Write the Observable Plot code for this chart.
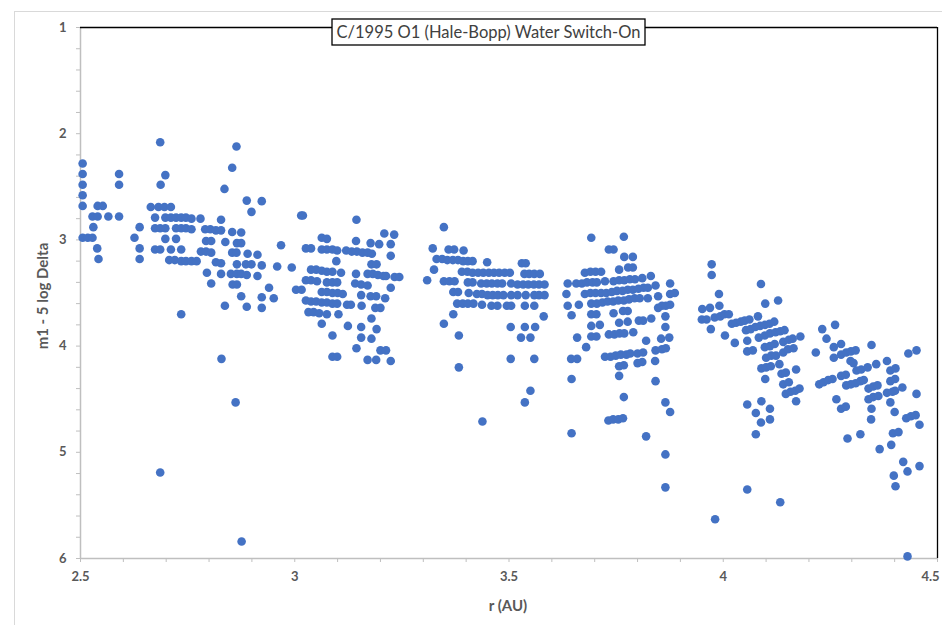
<!DOCTYPE html>
<html><head><meta charset="utf-8">
<script src="https://cdn.jsdelivr.net/npm/d3@7"></script>
<script src="https://cdn.jsdelivr.net/npm/@observablehq/plot@0.6"></script>
<style>
body{margin:0;background:#fff;}
#wrap{position:relative;width:942px;height:625px;overflow:hidden;background:#fff;}
#outer{position:absolute;left:14px;top:11px;width:960px;height:660px;border:1px solid #d9d9d9;}
#wrap svg{position:absolute;left:0;top:0;}
</style></head><body><div id="wrap"><div id="outer"></div></div>
<script>
// r (AU), m1 - 5 log Delta, grouped by observing window
const clusterA = [
[2.505,2.28],[2.505,2.38],[2.505,2.48],[2.505,2.58],[2.505,2.68],[2.505,2.98],
[2.517,2.98],[2.528,2.98],[2.528,2.78],[2.540,2.78],[2.540,2.68],[2.552,2.68],
[2.530,2.88],[2.539,3.08],[2.542,3.18],[2.565,2.78],
[2.590,2.38],[2.590,2.48],[2.590,2.78],
[2.626,2.98],[2.638,2.88],[2.638,3.08],[2.638,3.18],
[2.664,2.69],[2.674,2.79],[2.674,2.89],[2.686,2.89],[2.698,2.89],
[2.674,3.09],[2.686,3.09],[2.686,2.08],[2.687,2.48],[2.698,2.39],
[2.682,2.69],[2.696,2.69],[2.711,2.69],
[2.698,2.79],[2.711,2.79],[2.723,2.79],[2.735,2.79],[2.746,2.79],[2.759,2.80],
[2.723,2.89],[2.735,2.89],[2.746,2.89],[2.759,2.90],
[2.698,2.99],[2.723,2.99],[2.711,3.09],[2.735,3.09],
[2.707,3.19],[2.720,3.19],[2.735,3.20],[2.746,3.20],[2.759,3.20],[2.771,3.20],
[2.780,2.80],[2.791,2.90],[2.803,2.90],[2.816,2.91],[2.828,2.91],
[2.793,3.01],[2.805,3.01],[2.781,3.11],[2.793,3.11],[2.805,3.12],
[2.816,3.21],[2.828,3.22],[2.795,3.31],[2.805,3.41],[2.828,3.32],
[2.828,2.81],[2.836,2.52],[2.838,3.02],[2.837,3.62],
[2.735,3.70],[2.829,4.12],[2.686,5.19],
[2.864,2.12],[2.854,2.32],[2.888,2.63],[2.923,2.635],[2.899,2.736],
[2.854,2.925],[2.875,2.93],[2.865,3.03],[2.875,3.03],
[2.854,3.12],[2.864,3.12],[2.890,3.13],[2.913,3.14],
[2.865,3.23],[2.886,3.23],[2.899,3.23],[2.923,3.24],
[2.851,3.32],[2.865,3.32],[2.875,3.32],[2.888,3.33],[2.913,3.34],
[2.855,3.42],[2.865,3.42],[2.940,3.45],[2.875,3.53],[2.923,3.54],[2.951,3.55],
[2.888,3.63],[2.923,3.64],[2.968,3.05],[2.959,3.25],[2.993,3.26],
[3.015,2.77],[3.019,2.77],[3.003,3.47],[3.016,3.47],
[2.862,4.53],[2.876,5.84]
];
const clusterB = [
[3.026,3.08],[3.038,3.08],[3.063,2.98],[3.075,2.99],
[3.063,3.09],[3.075,3.09],[3.088,3.09],[3.099,3.10],
[3.144,2.81],[3.143,3.01],
[3.120,3.10],[3.133,3.11],[3.145,3.11],[3.158,3.12],[3.097,3.20],
[3.038,3.28],[3.050,3.28],[3.063,3.29],[3.075,3.30],[3.088,3.30],[3.108,3.31],[3.143,3.32],
[3.026,3.38],[3.038,3.38],[3.052,3.39],[3.075,3.40],[3.088,3.40],[3.099,3.40],
[3.141,3.41],[3.155,3.42],
[3.063,3.49],[3.075,3.49],[3.088,3.50],[3.100,3.50],[3.112,3.51],[3.155,3.52],
[3.026,3.57],[3.038,3.58],[3.050,3.58],[3.063,3.59],[3.075,3.59],[3.088,3.60],[3.099,3.60],
[3.122,3.61],[3.131,3.61],[3.156,3.62],
[3.032,3.68],[3.044,3.68],[3.057,3.69],[3.075,3.70],[3.102,3.70],
[3.063,3.79],[3.124,3.81],[3.155,3.82],[3.155,3.92],[3.088,3.90],[3.144,4.02],
[3.088,4.10],[3.099,4.10],
[3.209,2.94],[3.232,2.95],[3.177,3.03],[3.197,3.04],[3.224,3.04],
[3.170,3.12],[3.180,3.13],[3.224,3.15],[3.179,3.23],[3.191,3.23],
[3.170,3.32],[3.182,3.32],[3.194,3.33],[3.207,3.34],[3.213,3.34],[3.233,3.35],[3.244,3.35],
[3.170,3.43],[3.224,3.45],[3.177,3.53],[3.190,3.53],[3.211,3.55],
[3.188,3.64],[3.200,3.64],[3.179,3.74],[3.191,3.84],[3.179,3.93],
[3.200,4.04],[3.213,4.04],[3.170,4.13],[3.190,4.13],[3.224,4.14]
];
const clusterC = [
[3.348,2.88],[3.322,3.08],[3.359,3.09],[3.372,3.09],[3.394,3.10],
[3.325,3.28],[3.309,3.38],
[3.331,3.18],[3.344,3.18],[3.356,3.19],[3.369,3.19],[3.381,3.19],[3.393,3.20],[3.404,3.20],[3.415,3.20],
[3.449,3.21],[3.348,3.39],[3.361,3.39],[3.373,3.39],
[3.390,3.30],[3.403,3.30],[3.415,3.31],[3.428,3.31],[3.440,3.31],[3.453,3.31],[3.465,3.31],[3.477,3.31],[3.490,3.31],[3.502,3.31],
[3.370,3.49],[3.381,3.49],[3.406,3.50],[3.404,3.40],[3.415,3.40],
[3.435,3.41],[3.448,3.41],[3.460,3.41],[3.473,3.41],[3.484,3.41],[3.505,3.41],
[3.425,3.51],[3.437,3.51],[3.450,3.52],[3.462,3.52],[3.474,3.52],[3.487,3.52],[3.505,3.52],
[3.379,3.60],[3.392,3.60],[3.404,3.60],[3.417,3.60],[3.437,3.61],[3.459,3.62],[3.473,3.62],[3.495,3.62],[3.505,3.62],
[3.348,3.79],[3.370,3.70],[3.383,3.90],[3.383,4.20],[3.438,4.71],[3.504,3.82],[3.504,4.12],
[3.530,3.22],[3.539,3.22],
[3.536,3.32],[3.547,3.32],[3.559,3.32],[3.572,3.32],
[3.520,3.42],[3.533,3.42],[3.545,3.42],[3.558,3.42],[3.570,3.42],[3.583,3.42],
[3.520,3.52],[3.539,3.52],[3.559,3.52],[3.570,3.52],[3.583,3.52],
[3.537,3.62],[3.559,3.62],[3.581,3.72],[3.537,3.82],[3.561,3.82],
[3.528,3.92],[3.550,3.92],[3.559,4.12],[3.550,4.42],[3.537,4.53]
];
const clusterD = [
[3.692,2.98],[3.768,2.97],[3.733,3.09],[3.744,3.09],[3.769,3.16],[3.789,3.16],
[3.778,3.26],[3.789,3.26],[3.757,3.28],
[3.677,3.31],[3.690,3.30],[3.702,3.30],[3.715,3.30],[3.724,3.39],
[3.637,3.41],[3.657,3.41],[3.670,3.41],[3.682,3.40],[3.695,3.40],[3.705,3.40],
[3.744,3.39],[3.757,3.38],[3.769,3.38],[3.782,3.37],[3.794,3.37],[3.811,3.36],[3.831,3.34],[3.842,3.43],
[3.634,3.51],
[3.677,3.51],[3.690,3.50],[3.702,3.50],[3.715,3.50],[3.727,3.50],[3.740,3.49],[3.752,3.48],
[3.765,3.48],[3.777,3.47],[3.789,3.47],[3.802,3.46],[3.814,3.45],[3.824,3.45],
[3.692,3.60],[3.705,3.60],[3.718,3.59],[3.730,3.58],[3.743,3.58],[3.755,3.57],
[3.768,3.57],[3.780,3.56],[3.793,3.55],[3.805,3.55],[3.824,3.55],
[3.637,3.62],[3.663,3.61],[3.848,3.53],[3.848,3.64],[3.646,3.71],
[3.692,3.70],[3.704,3.70],[3.744,3.69],[3.766,3.67],[3.777,3.67],
[3.803,3.76],[3.813,3.76],[3.832,3.74],[3.692,3.81],[3.712,3.80],[3.757,3.78],[3.777,3.77],
[3.692,3.91],[3.704,3.91],[3.733,3.89],[3.746,3.89],[3.758,3.88],[3.769,3.88],[3.790,3.87],
[3.659,3.92],[3.680,4.01],[3.820,3.95],[3.645,4.12],[3.659,4.12],
[3.724,4.10],[3.737,4.10],[3.749,4.09],[3.761,4.08],[3.774,4.08],[3.783,4.07],
[3.800,4.07],[3.813,4.06],[3.842,4.04],[3.800,4.16],[3.811,4.15],[3.757,4.19],[3.768,4.18],
[3.841,4.14],[3.757,4.28],[3.646,4.31],[3.842,4.33],[3.768,4.48],
[3.732,4.70],[3.743,4.69],[3.755,4.69],[3.766,4.68],[3.646,4.82],[3.820,4.85],
[3.857,3.62],[3.866,3.62],[3.876,3.61],[3.876,3.41],[3.876,3.51],[3.887,3.50],
[3.865,3.72],[3.865,3.82],[3.855,3.93],[3.874,3.92],[3.857,4.03],[3.866,4.02],
[3.865,4.53],[3.876,4.62],[3.865,5.02],[3.865,5.33]
];
const clusterE = [
[3.973,3.23],[3.973,3.33],[3.990,3.51],[3.951,3.65],[3.969,3.64],[3.991,3.62],
[3.950,3.75],[3.961,3.75],[3.980,3.73],[3.993,3.72],[4.003,3.70],[4.013,3.70],
[3.971,3.84],[4.004,3.90],[4.027,3.97],
[4.020,3.79],[4.030,3.78],[4.041,3.77],[4.050,3.76],[4.061,3.75],
[4.053,3.85],[4.064,3.84],[4.075,3.82],[4.086,3.81],[4.097,3.80],[4.108,3.79],[4.119,3.77],
[4.081,3.72],[4.088,3.415],[4.098,3.60],[4.128,3.57],[4.056,3.95],[4.083,3.92],
[4.056,4.05],[4.069,4.04],[4.097,3.90],[4.109,3.88],[4.122,3.87],[4.133,3.86],[4.143,3.85],
[4.097,4.01],[4.109,4.00],[4.120,3.98],[4.140,3.96],[4.153,3.94],[4.162,3.93],[4.180,3.91],
[4.140,4.06],[4.151,4.03],[4.164,4.02],[4.100,4.11],[4.112,4.09],[4.123,4.09],[4.131,4.17],
[4.089,4.21],[4.100,4.20],[4.111,4.19],[4.136,4.26],[4.146,4.25],[4.170,4.22],[4.098,4.31],
[4.140,4.36],[4.153,4.34],[4.146,4.45],[4.157,4.43],[4.168,4.42],[4.178,4.40],[4.170,4.52],
[4.056,4.55],[4.089,4.52],[4.076,4.63],[4.109,4.59],[4.109,4.69],[4.088,4.72],[4.076,4.83],
[4.056,5.35],[4.133,5.47],[3.981,5.63]
];
const clusterF = [
[4.216,4.06],[4.231,3.84],[4.261,3.80],[4.241,3.93],[4.258,4.01],[4.275,3.98],[4.258,4.11],
[4.275,4.08],[4.287,4.06],[4.298,4.05],[4.309,4.04],[4.297,4.14],[4.304,4.16],[4.346,3.99],
[4.224,4.36],[4.234,4.34],[4.245,4.32],[4.255,4.31],[4.275,4.28],[4.286,4.27],
[4.287,4.37],[4.298,4.36],[4.309,4.35],[4.320,4.33],[4.328,4.32],
[4.311,4.23],[4.322,4.22],[4.337,4.20],[4.264,4.50],[4.275,4.59],[4.286,4.57],
[4.339,4.40],[4.350,4.38],[4.360,4.37],[4.339,4.50],[4.350,4.48],[4.362,4.47],
[4.357,4.17],[4.346,4.59],[4.345,4.69],[4.382,4.14],[4.390,4.23],[4.402,4.21],
[4.390,4.33],[4.401,4.31],[4.382,4.44],[4.395,4.43],[4.401,4.42],[4.418,4.39],
[4.390,4.53],[4.400,4.62],[4.396,4.82],[4.409,4.81],[4.432,4.07],[4.451,4.04],[4.451,4.45],
[4.427,4.68],[4.438,4.66],[4.449,4.65],[4.458,4.74],
[4.290,4.87],[4.320,4.83],[4.365,4.97],[4.392,4.93],
[4.420,5.09],[4.430,5.18],[4.458,5.13],[4.398,5.22],[4.402,5.32],[4.430,5.98]
];
const xTicks = [2.5, 3, 3.5, 4, 4.5];
const yTicks = [1, 2, 3, 4, 5, 6];
const xMinorTicks = [2.5,2.6,2.7,2.8,2.9,3,3.1,3.2,3.3,3.4,3.5,3.6,3.7,3.8,3.9,4,4.1,4.2,4.3,4.4,4.5];
const yMinorTicks = [1,1.2,1.4,1.6,1.8,2,2.2,2.4,2.6,2.8,3,3.2,3.4,3.6,3.8,4,4.2,4.4,4.6,4.8,5,5.2,5.4,5.6,5.8,6];
const titleText = "C/1995 O1 (Hale-Bopp) Water Switch-On";
const xLabel = "r (AU)";
const yLabel = "m1 - 5 log Delta";

const data = [...clusterA, ...clusterB, ...clusterC, ...clusterD, ...clusterE, ...clusterF]
  .map(([r, m]) => ({r, m}));

const gray = "#bfbfbf";
const plot = Plot.plot({
  width: 942, height: 625,
  marginLeft: 80, marginRight: 5, marginTop: 27, marginBottom: 67,
  x: {domain: [2.5, 4.5]},
  y: {domain: [1, 6], reverse: true},
  style: {background: "transparent", fontFamily: "Lato, 'Open Sans', sans-serif"},
  marks: [
    Plot.axisY({ticks: yMinorTicks, tickSize: 4, tickFormat: () => "", stroke: gray, label: null}),
    Plot.axisY({ticks: yTicks, tickSize: 0, tickPadding: 14, tickFormat: d => String(d), label: null}),
    Plot.axisX({ticks: xMinorTicks, tickSize: 4, tickFormat: () => "", stroke: gray, label: null}),
    Plot.axisX({ticks: xTicks, tickSize: 0, tickPadding: 13, tickFormat: d => String(d), label: null}),
    Plot.ruleX([2.5], {stroke: gray, strokeWidth: 1.5}),
    Plot.ruleY([6], {stroke: gray, strokeWidth: 1.5}),
    Plot.ruleY([1], {stroke: "#000", strokeWidth: 1.3}),
    Plot.ruleX([4.5], {stroke: "#000", strokeWidth: 1.3}),
    Plot.dot(data, {x: "r", y: "m", r: 4.3, fill: "#4472C4", stroke: "none"})
  ]
});
d3.select(plot).selectAll('g[aria-label="y-axis tick label"], g[aria-label="x-axis tick label"]')
  .attr("font-size", 13).attr("font-weight", "bold").attr("fill", "#595959");
// keep the last x tick label inside the window
d3.select(plot).selectAll('g[aria-label="x-axis tick label"] text')
  .filter(function() { return this.textContent === "4.5"; })
  .attr("dx", -7);
document.getElementById("wrap").appendChild(plot);

// overlay: title box and axis titles
const ov = d3.create("svg").attr("width", 942).attr("height", 625)
  .style("font-family", "Lato, 'Open Sans', sans-serif").style("pointer-events", "none");
ov.append("rect").attr("x", 332).attr("y", 19).attr("width", 313).attr("height", 26)
  .attr("fill", "#fff").attr("stroke", "#000").attr("stroke-width", 1.3);
ov.append("text").attr("x", 488.5).attr("y", 38).attr("text-anchor", "middle")
  .attr("font-size", 17).attr("fill", "#404040")
  .attr("textLength", 304).attr("lengthAdjust", "spacingAndGlyphs").text(titleText);
ov.append("text").attr("transform", "translate(48,296) rotate(-90)").attr("text-anchor", "middle")
  .attr("font-size", 15).attr("font-weight", "bold").attr("fill", "#595959").text(yLabel);
ov.append("text").attr("x", 508).attr("y", 611).attr("text-anchor", "middle")
  .attr("font-size", 15).attr("font-weight", "bold").attr("fill", "#595959").text(xLabel);
document.getElementById("wrap").appendChild(ov.node());
</script></body></html>
